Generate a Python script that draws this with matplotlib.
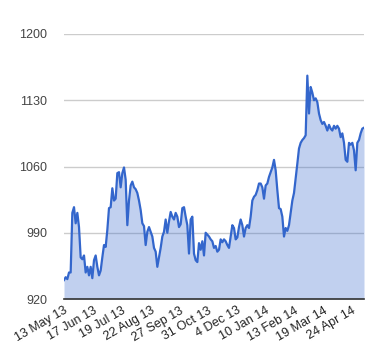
import numpy as np
import matplotlib
matplotlib.use("Agg")
import matplotlib.pyplot as plt
import matplotlib.transforms as mtransforms

plt.rcParams['font.family'] = ['Liberation Sans', 'DejaVu Sans']

tick_labels = ["13 May 13", "17 Jun 13", "19 Jul 13", "22 Aug 13", "27 Sep 13",
               "31 Oct 13", "4 Dec 13", "10 Jan 14", "13 Feb 14", "19 Mar 14", "24 Apr 14"]

values = [
    940, 943, 941, 948, 948, 1011, 1017, 1000, 1011, 996,
    964, 962, 966, 948, 954, 945, 954, 942, 961, 966,
    954, 945, 950, 964, 977, 975, 993, 1016, 1017, 1037,
    1024, 1026, 1053, 1054, 1038, 1053, 1059, 1046, 998, 1024,
    1040, 1044, 1038, 1036, 1032, 1024, 1014, 1000, 997, 977,
    991, 996, 991, 986, 974, 970, 954, 964, 974, 986,
    991, 1004, 990, 1002, 1012, 1007, 1004, 1011, 1007, 996,
    999, 1016, 1017, 1007, 998, 968, 1004, 1007, 968, 961,
    959, 979, 972, 981, 966, 990, 988, 986, 983, 981,
    974, 976, 970, 972, 983, 980, 983, 981, 977, 974,
    986, 998, 995, 983, 985, 996, 1004, 998, 986, 995,
    998, 995, 1007, 1024, 1028, 1030, 1035, 1042, 1042, 1038,
    1026, 1040, 1042, 1049, 1054, 1059, 1067, 1056, 1035, 1016,
    1015, 1007, 986, 995, 992, 998, 1011, 1024, 1032, 1047,
    1063, 1079, 1085, 1088, 1090, 1093, 1156, 1116, 1144, 1138,
    1130, 1132, 1128, 1116, 1109, 1105, 1107, 1103, 1098, 1104,
    1100, 1098, 1103, 1100, 1103, 1100, 1091, 1095, 1085, 1067,
    1065, 1085, 1083, 1085, 1077, 1056, 1085, 1088, 1095, 1100,
    1101,
]

y_ticks = [920, 990, 1060, 1130, 1200]

n = len(values)
x = np.arange(n)

fig = plt.figure(figsize=(3.8, 3.6), dpi=100)
ax = fig.add_axes([64/380, 1-299/360, 300/380, 265/360])

ax.fill_between(x, values, 920, color='#3366cc', alpha=0.3, linewidth=0)
ax.plot(x, values, color='#3366cc', linewidth=1.6)

ax.set_xlim(0, n - 1)
ax.set_ylim(920, 1200)
ax.set_yticks(y_ticks)
ax.set_yticklabels([str(v) for v in y_ticks])
ax.grid(axis='y', color='#cccccc', linewidth=1)
ax.set_axisbelow(True)

step = (n - 1) * 28.8 / 300
ax.set_xticks(np.arange(len(tick_labels)) * step)
ax.set_xticklabels(tick_labels, rotation=30, ha='right', rotation_mode='anchor')
offset = mtransforms.ScaledTranslation(-3/100, -2/100, fig.dpi_scale_trans)
for lab in ax.get_xticklabels():
    lab.set_transform(lab.get_transform() + offset)

for s in ['top', 'right', 'left']:
    ax.spines[s].set_visible(False)
ax.spines['bottom'].set_color('#333333')
ax.spines['bottom'].set_linewidth(1.2)

ax.tick_params(axis='y', length=0, pad=12, labelsize=9, labelcolor='#444444')
ax.tick_params(axis='x', length=0, pad=4, labelsize=9, labelcolor='#222222')

fig.savefig('out.png', dpi=100)
